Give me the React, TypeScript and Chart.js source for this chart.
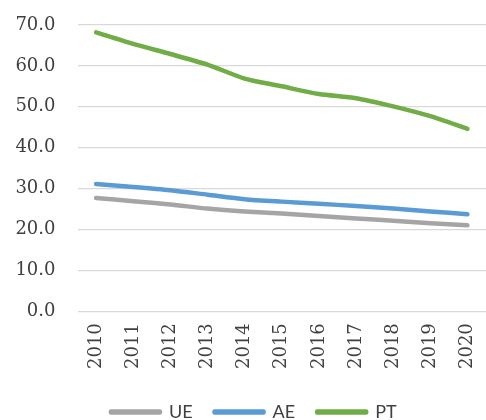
import React, { useEffect, useRef } from "react";
import { Chart, registerables } from "chart.js";

Chart.register(...registerables);

const years = ["2010", "2011", "2012", "2013", "2014", "2015", "2016", "2017", "2018", "2019", "2020"];
const ueValues = [27.7, 26.9, 26.1, 25.1, 24.4, 23.9, 23.3, 22.7, 22.1, 21.5, 21.0];
const aeValues = [31.1, 30.4, 29.6, 28.5, 27.4, 26.8, 26.3, 25.7, 25.1, 24.4, 23.7];
const ptValues = [68.2, 65.4, 62.9, 60.3, 56.9, 55.0, 53.1, 52.1, 50.1, 47.7, 44.6];
const yTickValues = [0, 10, 20, 30, 40, 50, 60, 70];

export default function App() {
  const ref = useRef<HTMLCanvasElement>(null);
  useEffect(() => {
    if (!ref.current) return;
    const mk = (label: string, data: number[], color: string) => ({
      label,
      data,
      borderColor: color,
      backgroundColor: color,
      borderWidth: 4.5,
      borderCapStyle: "round" as const,
      borderJoinStyle: "round" as const,
      pointRadius: 0,
      tension: 0.25,
      fill: false,
    });
    const chart = new Chart(ref.current, {
      type: "line",
      data: {
        labels: years,
        datasets: [
          mk("UE", ueValues, "#a5a5a5"),
          mk("AE", aeValues, "#5b9bd5"),
          mk("PT", ptValues, "#70ad47"),
        ],
      },
      options: {
        animation: false,
        responsive: true,
        maintainAspectRatio: false,
        layout: { padding: { left: 13.5, right: -8, top: 25, bottom: -11 } },
        plugins: {
          tooltip: { enabled: false },
          legend: {
            position: "bottom",
            labels: {
              boxWidth: 49,
              boxHeight: 1,
              padding: 22,
              color: "#404040",
              font: { family: "Lato", size: 18 },
            },
          },
        },
        scales: {
          x: {
            offset: true,
            afterFit: (axis: any) => {
              axis.paddingLeft = 0;
              axis.paddingRight = 0;
              axis.height = axis.height + 12;
            },
            grid: { display: false, drawTicks: true, tickLength: 12, tickColor: "rgba(0,0,0,0)" },
            border: { display: false },
            ticks: {
              minRotation: 90,
              maxRotation: 90,
              padding: 0,
              color: "#404040",
              font: { family: "DejaVu Serif", size: 18 },
            },
          },
          y: {
            min: 0,
            max: 70,
            afterBuildTicks: (axis: any) => {
              axis.ticks = yTickValues.map((v) => ({ value: v }));
            },
            afterFit: (axis: any) => {
              axis.width = 64;
            },
            grid: { color: "#d9d9d9", lineWidth: 1.3, drawTicks: true, tickLength: 22, tickColor: "rgba(0,0,0,0)" },
            border: { display: false },
            ticks: {
              padding: 0,
              color: "#404040",
              font: { family: "DejaVu Serif", size: 18 },
              callback: (v: any) => Number(v).toFixed(1),
            },
          },
        },
      },
    });
    return () => chart.destroy();
  }, []);
  return (
    <div style={{ position: "absolute", left: 0, top: 0, width: 486, height: 420, background: "#fff" }}>
      <canvas ref={ref} />
    </div>
  );
}
